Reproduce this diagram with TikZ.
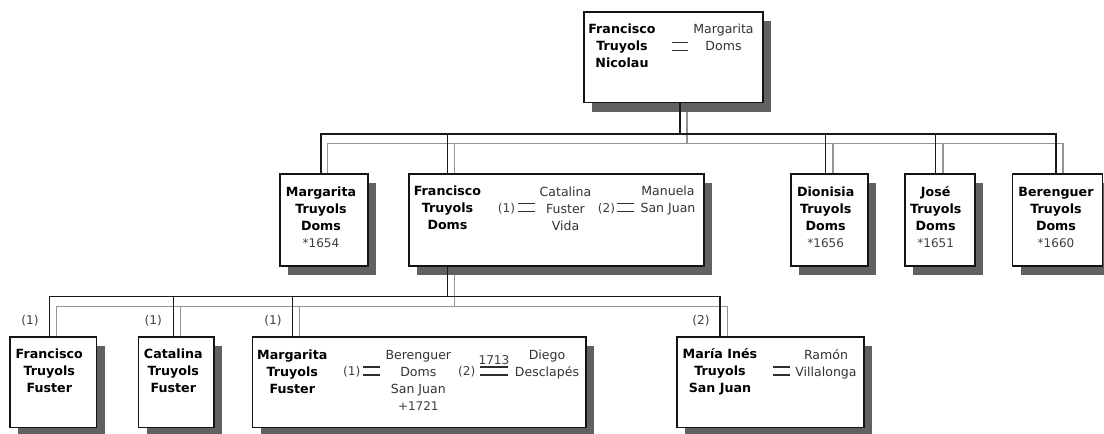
\documentclass[tikz,border=0pt]{standalone}
\usepackage{fontspec}
\setmainfont{DejaVu Sans}
\usetikzlibrary{shadows}
\newdimen\pxu \pxu=0.75pt
\pgfdeclarelayer{bg}
\pgfsetlayers{bg,main}
\tikzset{
  box/.style={draw=black!92, line width=1.25pt, fill=white, anchor=north west, inner sep=0pt,
    drop shadow={opacity=1, fill=black!62, shadow xshift=6pt, shadow yshift=-6.75pt}},
  pers/.style={font=\fontsize{9.5}{12.75}\selectfont\bfseries, align=center, inner sep=0pt, text=black},
  spo/.style={font=\fontsize{9.4}{12.75}\selectfont, align=center, inner sep=0pt, text=black!80},
  lbl/.style={font=\fontsize{9.1}{10}\selectfont, inner sep=0pt, text=black!75},
  blk/.style={draw=black!90, line width=1.15pt},
  gry/.style={draw=black!42, line width=1.15pt},
  eqbar/.style={draw=black!82, line width=1.3pt},
}
\newcommand\marsign[4]{% name, x, y, width
  \coordinate (#1) at (#2,#3);
  \draw[eqbar] ([xshift=-#4\pxu/2,yshift=4\pxu]#1) -- ++(#4,0)
               ([xshift=-#4\pxu/2,yshift=-4\pxu]#1) -- ++(#4,0);}
\newcommand\yr[1]{{\mdseries\fontsize{9}{12.75}\selectfont\color{black!75}#1}}
\begin{document}
\begin{tikzpicture}[x=0.75pt,y=-0.75pt]
\useasboundingbox (0,0) rectangle (1104,433);

% ---------- boxes ----------
\node[box, minimum width=179\pxu, minimum height=90.7\pxu] (T) at (583,11) {};
\node[box, minimum width=88\pxu, minimum height=91.7\pxu] (M) at (279.3,173.3) {};
\node[box, minimum width=294.7\pxu, minimum height=91.7\pxu] (F) at (408.3,173.3) {};
\node[box, minimum width=77.3\pxu, minimum height=91.7\pxu] (D) at (790,173.3) {};
\node[box, minimum width=70\pxu, minimum height=91.7\pxu] (J) at (904,173.3) {};
\node[box, minimum width=90\pxu, minimum height=91.7\pxu] (B) at (1011.7,173.3) {};
\node[box, minimum width=86.4\pxu, minimum height=90.7\pxu] (FF) at (9.3,336) {};
\node[box, minimum width=75.6\pxu, minimum height=90.7\pxu] (CF) at (137.7,336) {};
\node[box, minimum width=333.3\pxu, minimum height=90.7\pxu] (MF) at (251.7,336) {};
\node[box, minimum width=187.3\pxu, minimum height=90.7\pxu] (MI) at (676,336) {};

% ---------- texts ----------
\node[pers] (tP) at (622,46) {Francisco\\Truyols\\Nicolau};
\marsign{tE}{680}{46.5}{16}
\node[spo] (tS) at (723.5,37.5) {Margarita\\Doms};

\node[pers] (mP) at (321,217) {Margarita\\Truyols\\Doms\\\yr{*1654}};

\node[pers] (fP) at (447.5,208) {Francisco\\Truyols\\Doms};
\node[lbl] (f1) at (506.5,208.3) {(1)};
\marsign{fE1}{526.5}{207.5}{17}
\node[spo] (fS1) at (565.5,208.7) {Catalina\\Fuster\\Vida};
\node[lbl] (f2) at (606.5,208.3) {(2)};
\marsign{fE2}{625.5}{207.5}{17}
\node[spo] (fS2) at (668,200) {Manuela\\San Juan};

\node[pers] (dP) at (825.7,217) {Dionisia\\Truyols\\Doms\\\yr{*1656}};
\node[pers] (jP) at (935.7,217) {José\\Truyols\\Doms\\\yr{*1651}};
\node[pers] (bP) at (1056,217) {Berenguer\\Truyols\\Doms\\\yr{*1660}};

\node[pers] (ffP) at (49.3,370.5) {Francisco\\Truyols\\Fuster};
\node[lbl] (ffL) at (30,321) {(1)};
\node[pers] (cfP) at (173.3,370.5) {Catalina\\Truyols\\Fuster};
\node[lbl] (cfL) at (153.3,321) {(1)};
\node[pers] (mfP) at (292.3,371.3) {Margarita\\Truyols\\Fuster};
\node[lbl] (mfL) at (273,321) {(1)};
\node[lbl] (mf1) at (351.7,371.7) {(1)};
\marsign{mfE1}{371.7}{371}{17}
\node[spo] (mfS1) at (418.3,380.7) {Berenguer\\Doms\\San Juan\\\yr{+1721}};
\node[lbl] (mf2) at (466.7,371.7) {(2)};
\marsign{mfE2}{494}{371}{28}
\node[lbl] (mfY) at (494,360) {1713};
\node[spo] (mfS2) at (547,364.5) {Diego\\Desclapés};

\node[pers] (miP) at (720,371.3) {María Inés\\Truyols\\San Juan};
\node[lbl] (miL) at (701,321) {(2)};
\marsign{miE}{781.5}{371}{17}
\node[spo] (miS) at (826,364.5) {Ramón\\Villalonga};

% ---------- bus coordinates ----------
\coordinate (bus1) at (0,134);
\coordinate (gbus1) at (0,143.5);
\coordinate (bus2) at (0,296.7);
\coordinate (gbus2) at (0,306.5);
\coordinate (tG) at (687,0);
\coordinate (mG) at (327.7,0);
\coordinate (fG) at (454.5,0);
\coordinate (dG) at (833.2,0);
\coordinate (jG) at (943.2,0);
\coordinate (bG) at (1063,0);
\coordinate (ffG) at (56.7,0);
\coordinate (cfG) at (180.3,0);
\coordinate (mfG) at (299.3,0);
\coordinate (miG) at (727.3,0);

% ---------- grey connectors (behind boxes) ----------
\begin{pgfonlayer}{bg}
\draw[gry] (T.south -| tG) -- (gbus1 -| tG);
\draw[gry] (M.north -| mG) |- (gbus1 -| bG) -- (B.north -| bG);
\draw[gry] (gbus1 -| fG) -- (F.north -| fG);
\draw[gry] (gbus1 -| dG) -- (D.north -| dG);
\draw[gry] (gbus1 -| jG) -- (J.north -| jG);
\draw[gry] (F.south -| fG) -- (gbus2 -| fG);
\draw[gry] (FF.north -| ffG) |- (gbus2 -| miG) -- (MI.north -| miG);
\draw[gry] (gbus2 -| cfG) -- (CF.north -| cfG);
\draw[gry] (gbus2 -| mfG) -- (MF.north -| mfG);
\end{pgfonlayer}

% ---------- black connectors ----------
\draw[blk] (T.south -| tE) -- (bus1 -| tE);
\draw[blk] (M.north -| mP) |- (bus1 -| bP) -- (B.north -| bP);
\draw[blk] (bus1 -| fP) -- (F.north -| fP);
\draw[blk] (bus1 -| dP) -- (D.north -| dP);
\draw[blk] (bus1 -| jP) -- (J.north -| jP);
\draw[blk] (F.south -| fP) -- (bus2 -| fP);
\draw[blk] (FF.north -| ffP) |- (bus2 -| miP) -- (MI.north -| miP);
\draw[blk] (bus2 -| cfP) -- (CF.north -| cfP);
\draw[blk] (bus2 -| mfP) -- (MF.north -| mfP);
\end{tikzpicture}
\end{document}
